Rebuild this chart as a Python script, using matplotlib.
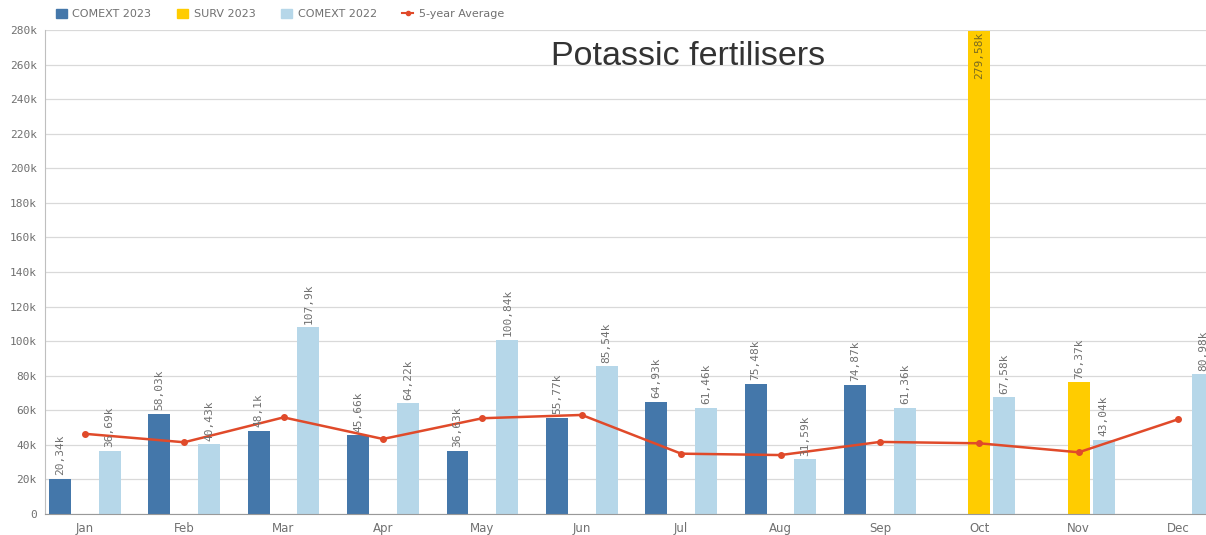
import matplotlib
matplotlib.use('Agg')
import matplotlib.pyplot as plt
from matplotlib.patches import Patch
from matplotlib.lines import Line2D
import numpy as np

months = ["Jan", "Feb", "Mar", "Apr", "May", "Jun", "Jul", "Aug", "Sep", "Oct", "Nov", "Dec"]
# values in thousands, None = no bar
comext_2023 = [20.34, 58.03, 48.1, 45.66, 36.63, 55.77, 64.93, 75.48, 74.87, None, None, None]
surv_2023 = [None, None, None, None, None, None, None, None, None, 279.58, 76.37, None]
comext_2022 = [36.69, 40.43, 107.9, 64.22, 100.84, 85.54, 61.46, 31.59, 61.36, 67.58, 43.04, 80.98]
avg_5y = [46.4, 41.5, 55.9, 43.4, 55.4, 57.3, 34.9, 34.1, 41.7, 40.9, 35.7, 54.8]
yticks = [0, 20, 40, 60, 80, 100, 120, 140, 160, 180, 200, 220, 240, 260, 280]

c_dark = "#4477aa"
c_yellow = "#ffcc00"
c_light = "#b6d7e9"
c_red = "#e04a2a"
txt = "#707070"

fig = plt.figure(figsize=(12.06, 5.35), dpi=100)
ax = fig.add_axes([45/1206, 1-514/535, 1-45/1206, 484/535])

x = np.arange(len(months))
w = 0.22
ymax = 280

def fmt(v):
    s = ("%.2f" % v).rstrip("0").rstrip(".")
    return s.replace(".", ",") + "k"

series = [(comext_2023, -0.25, c_dark), (surv_2023, 0.0, c_yellow), (comext_2022, 0.25, c_light)]
for vals, off, col in series:
    for i, v in enumerate(vals):
        if v is None:
            continue
        ax.bar(x[i] + off, v, width=w, color=col, zorder=2)
        if v + 25 > ymax:
            ax.text(x[i] + off, ymax - 1, fmt(v), rotation=90, ha="center", va="top",
                    fontsize=8, family="DejaVu Sans Mono", color="#7a6a20", zorder=4)
        else:
            ax.text(x[i] + off, v + 2, fmt(v), rotation=90, ha="center", va="bottom",
                    fontsize=8, family="DejaVu Sans Mono", color=txt, zorder=4)

ax.plot(x, avg_5y, color=c_red, lw=1.8, marker="o", ms=4, zorder=3)

ax.set_xlim(-0.40, 11.28)
ax.set_ylim(0, ymax)
ax.set_yticks(yticks)
ax.set_yticklabels(["0"] + ["%dk" % t for t in yticks[1:]], family="DejaVu Sans Mono", fontsize=8, color=txt)
ax.set_xticks(x)
ax.set_xticklabels(months, fontsize=8.5, color=txt)
ax.tick_params(axis="both", length=0)
ax.tick_params(axis="x", pad=6)
ax.tick_params(axis="y", pad=6)
ax.grid(axis="y", color="#d9d9d9", lw=0.9, zorder=0)
for s in ["top", "right"]:
    ax.spines[s].set_visible(False)
ax.spines["left"].set_color("#bfbfbf")
ax.spines["bottom"].set_color("#999999")

ax.text(0.554, 0.946, "Potassic fertilisers", transform=ax.transAxes, ha="center", va="center",
        fontsize=24.5, family="Liberation Sans", color="#333333")

handles = [Patch(color=c_dark), Patch(color=c_yellow), Patch(color=c_light),
           Line2D([], [], color=c_red, marker="o", ms=3, lw=1.5)]
labels = ["COMEXT 2023", "SURV 2023", "COMEXT 2022", "5-year Average"]
leg = fig.legend(handles, labels, loc="upper left", bbox_to_anchor=(0.038, 1.002), ncol=4,
                 frameon=False, fontsize=8, handlelength=1.0, handleheight=0.9,
                 columnspacing=2.3, handletextpad=0.5)
for t in leg.get_texts():
    t.set_color(txt)

fig.savefig("out.png", dpi=100)
